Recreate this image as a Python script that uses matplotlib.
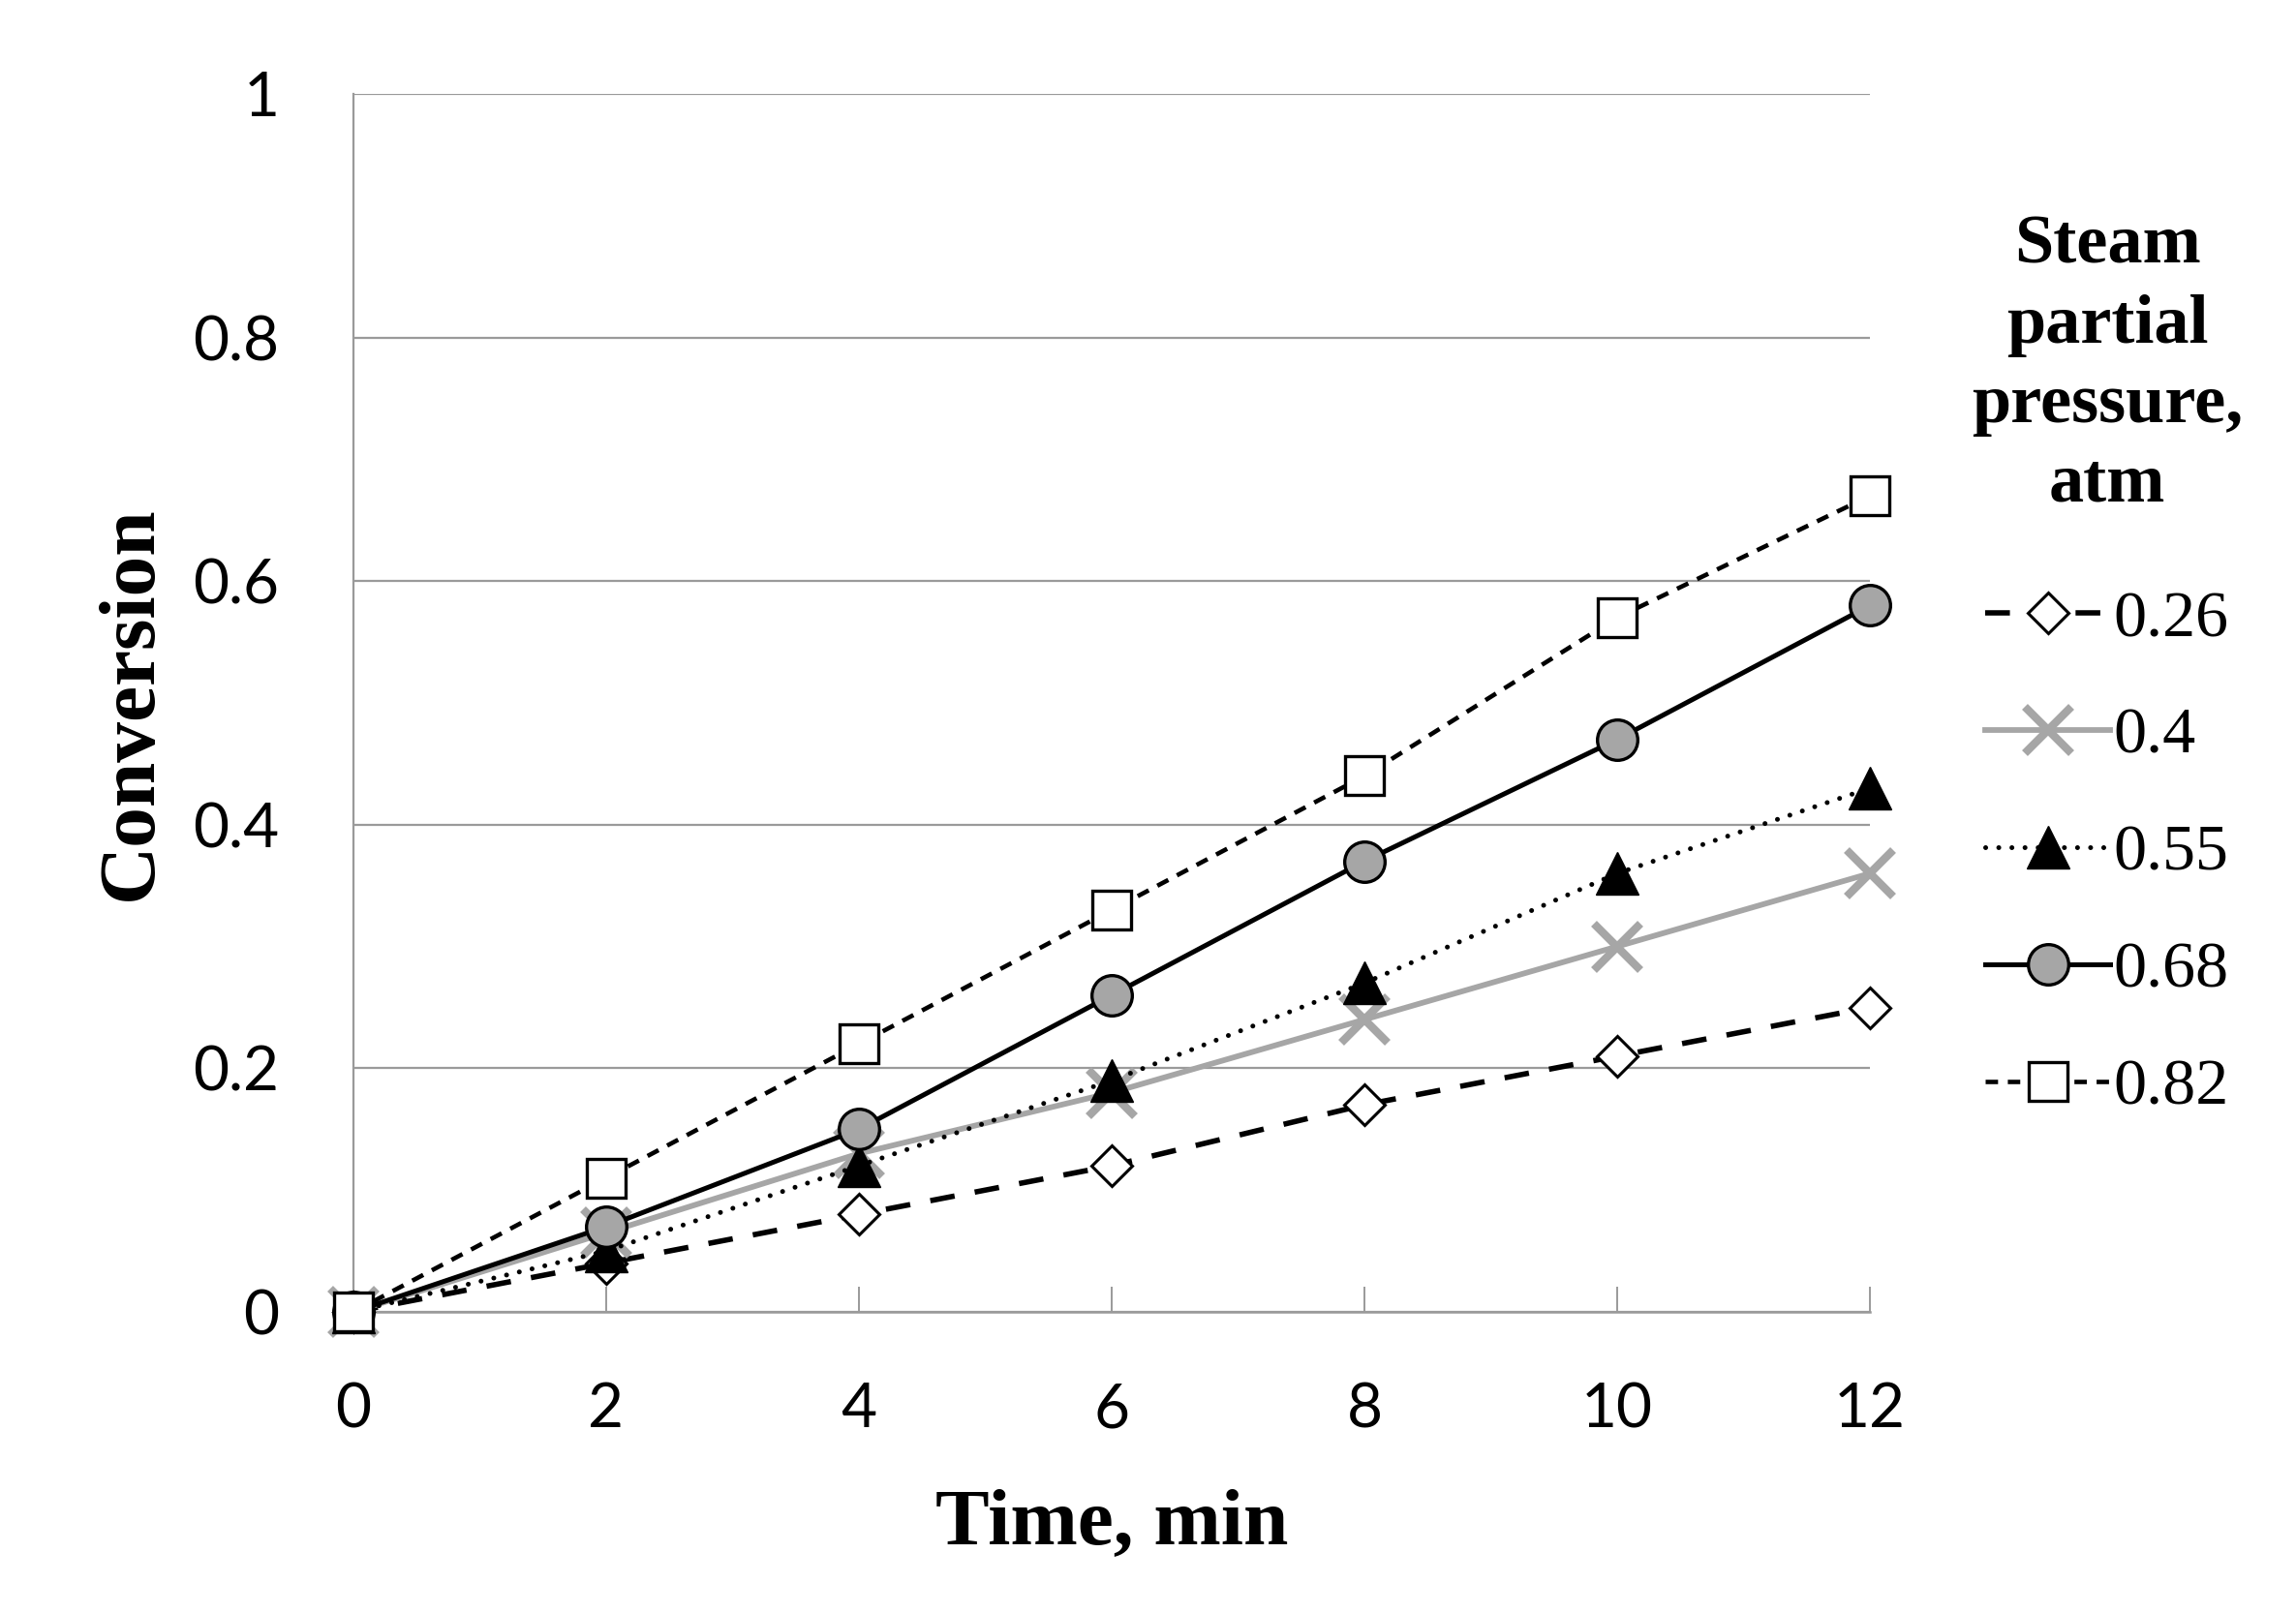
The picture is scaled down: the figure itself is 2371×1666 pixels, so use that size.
import matplotlib
matplotlib.use('Agg')
import matplotlib.pyplot as plt

# datos
tiempo = [0, 2, 4, 6, 8, 10, 12]
presiones = ['0.26', '0.4', '0.55', '0.68', '0.82']
conv_026 = [0, 0.04, 0.08, 0.12, 0.17, 0.21, 0.25]
conv_040 = [0, 0.065, 0.13, 0.18, 0.24, 0.30, 0.36]
conv_055 = [0, 0.05, 0.12, 0.19, 0.27, 0.36, 0.43]
conv_068 = [0, 0.07, 0.15, 0.26, 0.37, 0.47, 0.58]
conv_082 = [0, 0.11, 0.22, 0.33, 0.44, 0.57, 0.67]
y_ticks = [0, 0.2, 0.4, 0.6, 0.8, 1]
y_labels = ['0', '0.2', '0.4', '0.6', '0.8', '1']
x_ticks = [0, 2, 4, 6, 8, 10, 12]

GRIS = '#A6A6A6'
EJE = '#9A9A9A'

fig = plt.figure(figsize=(23.71, 16.66), dpi=100)
fig.patch.set_facecolor('white')
ax = fig.add_axes([365 / 2371, 1 - 1355 / 1666, 1566 / 2371, 1258 / 1666])

# series
ax.plot(tiempo, conv_026, color='black', lw=4.0, dashes=(4.6, 3.8),
        marker='D', ms=21, mfc='white', mec='black', mew=2.2,
        clip_on=False, zorder=3, label=presiones[0])
ax.plot(tiempo, conv_040, color=GRIS, lw=4.2,
        marker='x', ms=34, mec=GRIS, mew=6.0,
        clip_on=False, zorder=3, label=presiones[1])
ax.plot(tiempo, conv_055, color='black', lw=3.6, dashes=(0.01, 2.7),
        dash_capstyle='round',
        marker='^', ms=32, mfc='black', mec='black', mew=1.0,
        clip_on=False, zorder=3, label=presiones[2])
ax.plot(tiempo, conv_068, color='black', lw=3.6,
        marker='o', ms=30, mfc=GRIS, mec='black', mew=2.4,
        clip_on=False, zorder=3, label=presiones[3])
ax.plot(tiempo, conv_082, color='black', lw=3.3, dashes=(2.8, 2.2),
        marker='s', ms=29, mfc='white', mec='black', mew=2.4,
        clip_on=False, zorder=3, label=presiones[4])

ax.set_xlim(0, 12)
ax.set_ylim(0, 1)

ax.set_yticks(y_ticks)
ax.set_yticklabels(y_labels)
ax.set_xticks(x_ticks)

for s in ['top', 'right']:
    ax.spines[s].set_visible(False)
ax.spines['left'].set_color(EJE)
ax.spines['bottom'].set_color(EJE)
ax.spines['left'].set_linewidth(1.6)
ax.spines['bottom'].set_linewidth(1.8)

ax.grid(axis='y', color=EJE, linewidth=1.6)
ax.set_axisbelow(True)

ax.tick_params(axis='y', length=0, pad=55, labelsize=46)
ax.tick_params(axis='x', direction='in', length=19, width=1.4, color=EJE,
               pad=52, labelsize=46)
for lab in ax.get_xticklabels() + ax.get_yticklabels():
    lab.set_fontfamily('Lato')

ax.set_xlabel('Time, min', fontfamily='Liberation Serif', fontweight='bold',
              fontsize=60)
ax.xaxis.set_label_coords(0.5, -0.145)
ax.set_ylabel('Conversion', fontfamily='Liberation Serif', fontweight='bold',
              fontsize=60)
ax.yaxis.set_label_coords(-0.122, 0.5)

leg = ax.legend(title='Steam\npartial\npressure,\natm', frameon=False,
                loc='upper left', bbox_to_anchor=(2036 / 2371, 1 - 222 / 1666),
                bbox_transform=fig.transFigure,
                prop={'family': 'Liberation Serif', 'size': 49},
                title_fontproperties={'family': 'Liberation Serif',
                                      'weight': 'bold', 'size': 52},
                handlelength=1.9, handletextpad=0.05, labelspacing=0.87,
                borderpad=0, borderaxespad=0, numpoints=1)
leg.get_title().set_multialignment('center')
leg.get_title().set_linespacing(1.34)
leg._legend_box.sep = 55

plt.savefig('out.png', dpi=100, facecolor='white')
plt.close()
